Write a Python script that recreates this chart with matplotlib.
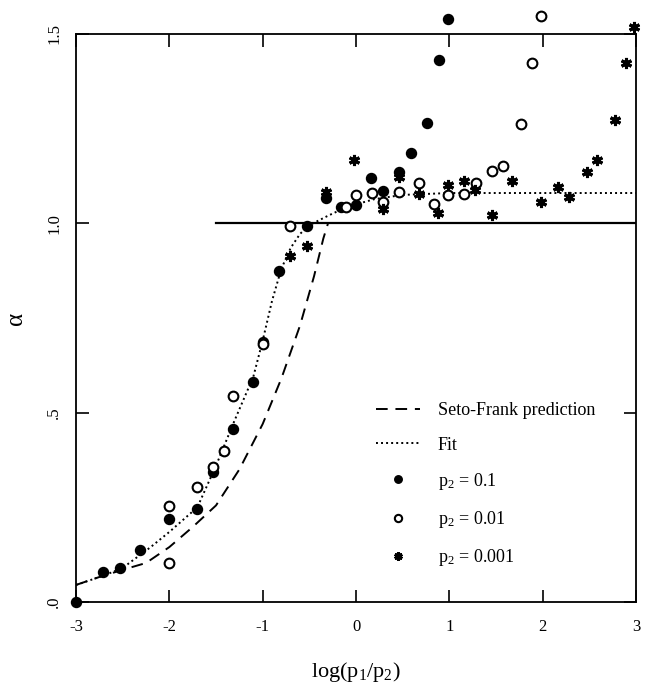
import numpy as np
import matplotlib
matplotlib.use("Agg")
import matplotlib.pyplot as plt

# ----------------------------------------
# Data
# ----------------------------------------

# p2 = 0.1 (filled circles)
x_p1 = [-3.0, -2.71, -2.53, -2.31, -2.0, -1.70, -1.53, -1.32, -1.10, -1.0,
        -0.83, -0.53, -0.32, -0.16, 0.0, 0.16, 0.29, 0.46, 0.59, 0.76, 0.89, 0.99]
y_p1 = [0.0, 0.080, 0.090, 0.137, 0.219, 0.245, 0.343, 0.457, 0.581, 0.687,
        0.874, 0.993, 1.067, 1.043, 1.048, 1.120, 1.086, 1.136, 1.185, 1.266, 1.430, 1.540]

# p2 = 0.01 (open circles)
x_p01 = [-2.0, -2.0, -1.70, -1.53, -1.41, -1.32, -1.0, -0.71, -0.11, 0.0,
         0.17, 0.29, 0.46, 0.68, 0.84, 0.99, 1.16, 1.29, 1.46, 1.58, 1.77, 1.89, 1.98]
y_p01 = [0.102, 0.253, 0.304, 0.356, 0.399, 0.544, 0.681, 0.993, 1.043, 1.075,
         1.080, 1.057, 1.083, 1.107, 1.051, 1.075, 1.077, 1.106, 1.138, 1.151, 1.262, 1.424, 1.547]

# p2 = 0.001 (stars)
x_p001 = [-0.71, -0.53, -0.32, -0.02, 0.29, 0.46, 0.68, 0.88, 0.99, 1.16, 1.28,
          1.46, 1.67, 1.98, 2.16, 2.28, 2.47, 2.58, 2.77, 2.89, 2.98]
y_p001 = [0.914, 0.940, 1.083, 1.167, 1.037, 1.122, 1.077, 1.027, 1.101, 1.112, 1.088,
          1.022, 1.112, 1.057, 1.096, 1.070, 1.136, 1.167, 1.273, 1.424, 1.518]

# Seto-Frank prediction (dashed)
x_sf = [-3.0, -2.75, -2.5, -2.25, -2.0, -1.75, -1.5, -1.25, -1.0, -0.8, -0.6, -0.45, -0.35, -0.3]
y_sf = [0.045, 0.066, 0.085, 0.103, 0.145, 0.198, 0.255, 0.350, 0.470, 0.590, 0.730, 0.860, 0.960, 1.0]

# Fit (dotted)
x_fit = [-3.0, -2.7, -2.5, -2.2, -2.0, -1.7, -1.5, -1.3, -1.1, -1.0, -0.9, -0.8,
         -0.7, -0.6, -0.5, -0.3, -0.1, 0.2, 0.5, 1.0, 3.0]
y_fit = [0.045, 0.070, 0.090, 0.145, 0.185, 0.250, 0.360, 0.480, 0.595, 0.690, 0.795, 0.880,
         0.935, 0.972, 0.995, 1.020, 1.043, 1.064, 1.075, 1.080, 1.080]

# reference line alpha = 1
x_ref = [-1.5, 3.0]
y_ref = [1.0, 1.0]

x_ticks = [-3, -2, -1, 0, 1, 2, 3]
x_ticklabels = ["-3", "-2", "-1", "0", "1", "2", "3"]
y_ticks = [0.0, 0.5, 1.0, 1.5]
y_ticklabels = [".0", ".5", "1.0", "1.5"]

# ----------------------------------------
# Plot
# ----------------------------------------

plt.rcParams['font.family'] = ['Liberation Serif', 'DejaVu Serif']
plt.rcParams['mathtext.fontset'] = 'custom'
plt.rcParams['mathtext.rm'] = 'Liberation Serif'
plt.rcParams['mathtext.it'] = 'Liberation Serif:italic'

fig = plt.figure(figsize=(6.47, 6.85), dpi=100)
ax = fig.add_axes([0.1175, 0.1212, 0.8655, 0.8292])

ax.plot(x_ref, y_ref, color='black', lw=1.6)
ax.plot(x_sf, y_sf, color='black', lw=1.4, linestyle=(0, (6, 4)),
        label='Seto-Frank prediction')
ax.plot(x_fit, y_fit, color='black', lw=1.4, linestyle=(0, (1, 1.6)), label='Fit')

ax.plot(x_p1, y_p1, linestyle='none', marker='o', ms=7.2, mfc='black', mec='black',
        clip_on=False, label='p$_2$ = 0.1')
ax.plot(x_p01, y_p01, linestyle='none', marker='o', ms=7.0, mfc='white', mec='black',
        mew=1.5, clip_on=False, label='p$_2$ = 0.01')
ax.plot(x_p001, y_p001, linestyle='none', marker=(6, 2, 0), ms=8, mec='black',
        mew=2.2, clip_on=False, label='p$_2$ = 0.001')

ax.set_xlim(-3, 3)
ax.set_ylim(0, 1.5)
ax.set_xticks(x_ticks)
ax.set_xticklabels(x_ticklabels, fontsize=12)
ax.set_yticks(y_ticks)
ax.set_yticklabels(y_ticklabels, fontsize=12, rotation=90, va='center')

ax.tick_params(direction='in', top=True, right=True, length=9, width=1.2)
ax.tick_params(axis='x', pad=12)
ax.tick_params(axis='y', pad=10)
for s in ax.spines.values():
    s.set_linewidth(1.3)

ax.set_xlabel('log(p$_1$/p$_2$)', fontsize=16, labelpad=18)
ax.set_ylabel('α', fontsize=18, labelpad=14)

ax.legend(loc='upper left', bbox_to_anchor=(0.507, 0.38), frameon=False, fontsize=13,
          handlelength=2.4, handletextpad=1.0, labelspacing=0.95, markerscale=0.75)

plt.savefig('out.png', dpi=100)
